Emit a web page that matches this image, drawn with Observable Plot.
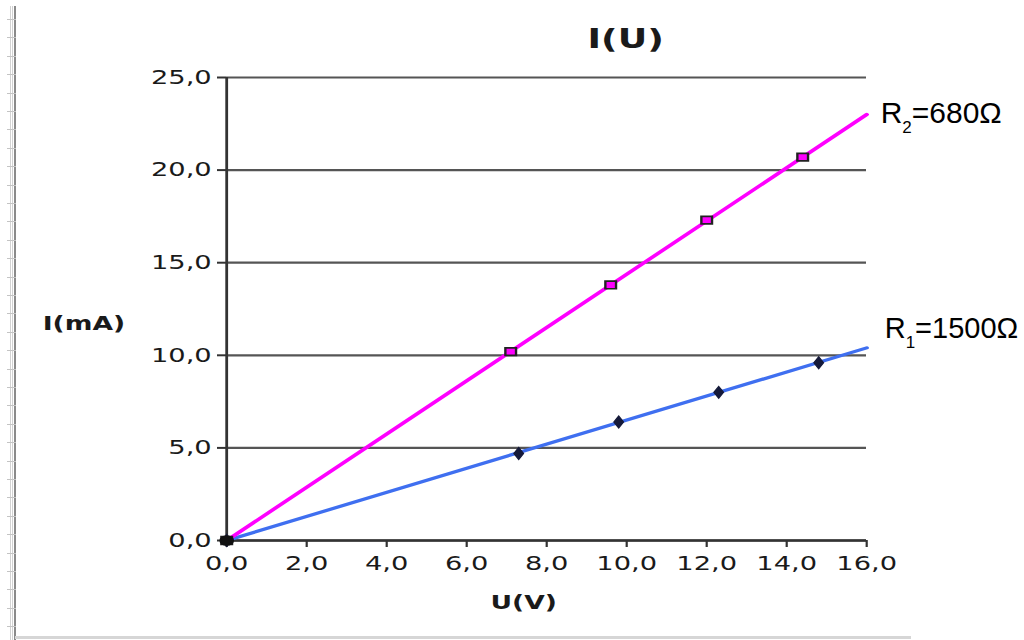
<!DOCTYPE html>
<html><head><meta charset="utf-8">
<script src="https://cdn.jsdelivr.net/npm/d3@7"></script>
<script src="https://cdn.jsdelivr.net/npm/@observablehq/plot@0.6"></script>
<style>
html,body{margin:0;padding:0;background:#fff;width:1024px;height:640px;overflow:hidden;position:relative}
#chart{position:absolute;left:0;top:0;width:1024px;height:640px}
.ruler{position:absolute;left:7px;top:6px;width:9px;height:634px;
 background:
  repeating-linear-gradient(to bottom, transparent 0 13px, #c4c4c4 13px 14px, transparent 14px 18.4px),
  linear-gradient(to right, transparent 0 3px, #d2d2d2 3px 4px, transparent 4px 5px, #d2d2d2 5px 6px, transparent 6px 7px, #8a8a8a 7px 9px);}
.bottomline{position:absolute;left:15px;top:636px;width:896px;height:3px;background:#d6d6d6}
</style></head><body>
<div id="chart"></div>
<div class="ruler"></div>
<div class="bottomline"></div>
<script>
// ---- data ----
const titleText = "I(U)";
const xLabel = "U(V)";
const yLabel = "I(mA)";
const xTicks = [0, 2, 4, 6, 8, 10, 12, 14, 16];
const yTicks = [0, 5, 10, 15, 20, 25];
// R1 = 1500 Ω (blue)
const U_R1 = [0, 7.3, 9.8, 12.3, 14.8];
const I_R1 = [0, 4.7, 6.4, 8.0, 9.6];
// R2 = 680 Ω (magenta)
const U_R2 = [0, 7.1, 9.6, 12.0, 14.4];
const I_R2 = [0, 10.2, 13.8, 17.3, 20.7];
// trend lines (end points)
const fitU = [0, 16];
const fitI_R1 = [0, 10.4];
const fitI_R2 = [0, 23.0];
const labelR1 = "R1=1500Ω";
const labelR2 = "R2=680Ω";

// ---- build ----
const S = 1.4; // horizontal stretch of the original picture
const W = 1024 / S;
const fmt = d => d.toFixed(1).replace(".", ",");
const pts1 = U_R1.map((u, i) => ({U: u, I: I_R1[i]}));
const pts2 = U_R2.map((u, i) => ({U: u, I: I_R2[i]}));
const fit1 = fitU.map((u, i) => ({U: u, I: fitI_R1[i]}));
const fit2 = fitU.map((u, i) => ({U: u, I: fitI_R2[i]}));
const end1 = [fit1[fit1.length - 1]];
const end2 = [fit2[fit2.length - 1]];
const origin = [pts1[0]];

const plot = Plot.plot({
  width: W, height: 640,
  marginLeft: 226 / S, marginRight: 158 / S, marginTop: 77, marginBottom: 100,
  x: {domain: [0, 16], label: null},
  y: {domain: [0, 25], label: null},
  style: {fontFamily: "'DejaVu Sans', sans-serif", fontSize: "19px", color: "#1a1a1a", background: "white", overflow: "visible"},
  marks: [
    Plot.gridY(yTicks, {stroke: "#555", strokeOpacity: 1, strokeWidth: 2.2}),
    Plot.axisY(yTicks, {tickSize: 9 / S, tickPadding: 6 / S, tickFormat: fmt, stroke: "#333", strokeWidth: 2, label: null, fontSize: 19.5}),
    Plot.axisX(xTicks, {tickSize: 7, tickPadding: 9, tickFormat: fmt, stroke: "#333", strokeWidth: 2.2 / S, label: null, fontSize: 19.5}),
    Plot.ruleX([0], {stroke: "#333", strokeWidth: 2.8 / S}),
    Plot.ruleY([0], {stroke: "#333", strokeWidth: 2.4}),
    Plot.line(fit1, {x: "U", y: "I", stroke: "#3f6ff0", strokeWidth: 3.2}),
    Plot.line(fit2, {x: "U", y: "I", stroke: "#ff00ff", strokeWidth: 3.2}),
    Plot.dot(pts2, {x: "U", y: "I", symbol: "square", r: 4.3, fill: "#ff00ff", stroke: "#222", strokeWidth: 1.7}),
    Plot.dot(pts1, {x: "U", y: "I", symbol: "diamond", r: 3.6, fill: "#151a3a", stroke: "#151a3a", strokeWidth: 1}),
    Plot.dot(origin, {x: "U", y: "I", r: 4.5, fill: "#111", stroke: "#111"}),
    Plot.text([titleText], {frameAnchor: "top", dx: 79 / S, dy: -48, fontWeight: "bold", fontSize: 26, fill: "#1a1a1a"}),
    Plot.text([yLabel], {frameAnchor: "left", textAnchor: "start", dx: -(226 - 42) / S, dy: 14.5, fontWeight: "bold", fontSize: 19, fill: "#1a1a1a"}),
    Plot.text([xLabel], {frameAnchor: "bottom", dx: -23 / S, dy: 68, fontWeight: "bold", fontSize: 19, fill: "#1a1a1a"}),
    Plot.text(end2, {x: "U", y: "I", text: () => labelR2, textAnchor: "start", dx: 14 / S, dy: -1, fontFamily: "'Liberation Sans', Arial, sans-serif", fontSize: 30, fill: "#000"}),
    Plot.text(end1, {x: "U", y: "I", text: () => labelR1, textAnchor: "start", dx: 18 / S, dy: -19, fontFamily: "'Liberation Sans', Arial, sans-serif", fontSize: 29, fill: "#000"})
  ]
});

const svg = plot;
svg.setAttribute("width", 1024);
svg.setAttribute("height", 640);
svg.setAttribute("viewBox", `0 0 ${W} 640`);
svg.setAttribute("preserveAspectRatio", "none");
svg.style.maxWidth = "none";
svg.style.width = "1024px";
svg.style.height = "640px";

const ns = "http://www.w3.org/2000/svg";
const labelSet = new Set([labelR1, labelR2]);
svg.querySelectorAll("text").forEach(t => {
  const s = t.textContent;
  if (!labelSet.has(s)) return;
  t.textContent = "";
  const a = document.createElementNS(ns, "tspan"); a.textContent = s.slice(0, 1);
  const b = document.createElementNS(ns, "tspan"); b.textContent = s.slice(1, 2);
  b.setAttribute("font-size", "17"); b.setAttribute("dy", "10");
  const c = document.createElementNS(ns, "tspan"); c.textContent = s.slice(2);
  c.setAttribute("dy", "-10");
  t.append(a, b, c);
  const tr = t.getAttribute("transform") || "";
  t.setAttribute("transform", `${tr} scale(${1 / S},1)`);
});
document.getElementById("chart").append(svg);
</script>
</body></html>
